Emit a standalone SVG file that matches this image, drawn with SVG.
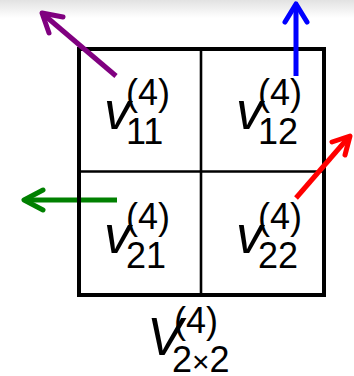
<svg xmlns="http://www.w3.org/2000/svg" width="354" height="376" viewBox="0 0 354 376">
  <defs>
    <linearGradient id="topShade" x1="0" y1="0" x2="0" y2="1">
      <stop offset="0" stop-color="#e2e2e2"/>
      <stop offset="1" stop-color="#ffffff"/>
    </linearGradient>
    <style>
      .shaft { fill: none; stroke-width: 5; stroke-linecap: butt; }
      .head { fill: none; stroke-width: 5; stroke-linecap: round; stroke-linejoin: round; }
      .box { fill: none; stroke: #000; stroke-width: 4; }
      .div { stroke: #000; stroke-width: 2.6; }
      .lbl { font-family: "Liberation Sans", Arial, sans-serif; fill: #000; font-size: 36px; }
      .var { font-style: italic; font-size: 53px; }
      .times { font-size: 30px; }
    </style>
  </defs>
  <rect x="0" y="0" width="354" height="376" fill="#ffffff"/>
  <rect x="0" y="0" width="354" height="18" fill="url(#topShade)"/>

  <g id="arrows-under">
    <g id="arrow-green" stroke="#008000">
      <path class="shaft" d="M117 200 L25 200"/>
      <path class="head" d="M43 190 L24 200 L43 210"/>
    </g>
  </g>

  <g id="matrix">
    <rect class="box" x="79" y="49" width="245" height="246"/>
    <line class="div" x1="201" y1="49" x2="201" y2="295"/>
    <line class="div" x1="79" y1="171.5" x2="324" y2="171.5"/>
  </g>

  <g id="connectors">
    <g id="arrow-purple" stroke="#800080">
      <path class="shaft" d="M116 76 L43 14"/>
      <path class="head" d="M63 17 L42 13 L49 33"/>
    </g>
    <g id="arrow-blue" stroke="#0000ff">
      <path class="shaft" d="M296 76 L296 6"/>
      <path class="head" d="M285 22 L296 4 L307 22"/>
    </g>
    <g id="arrow-red" stroke="#ff0000">
      <path class="shaft" d="M296 198 L348 138"/>
      <path class="head" d="M332 142 L350 136 L345 155"/>
    </g>
  </g>

  <g id="node-v11">
    <text class="lbl"><tspan class="var" x="104" y="129">v</tspan><tspan x="126" y="105">(4)</tspan><tspan x="126" y="144">11</tspan></text>
  </g>
  <g id="node-v12">
    <text class="lbl"><tspan class="var" x="236" y="129">v</tspan><tspan x="258" y="105">(4)</tspan><tspan x="258" y="144">12</tspan></text>
  </g>
  <g id="node-v21">
    <text class="lbl"><tspan class="var" x="104" y="253">v</tspan><tspan x="126" y="229">(4)</tspan><tspan x="126" y="268">21</tspan></text>
  </g>
  <g id="node-v22">
    <text class="lbl"><tspan class="var" x="236" y="253">v</tspan><tspan x="258" y="229">(4)</tspan><tspan x="258" y="268">22</tspan></text>
  </g>
  <g id="label-V">
    <text class="lbl"><tspan class="var" x="147" y="355">V</tspan><tspan x="174" y="333">(4)</tspan><tspan x="172" y="372">2<tspan class="times">×</tspan>2</tspan></text>
  </g>
</svg>
